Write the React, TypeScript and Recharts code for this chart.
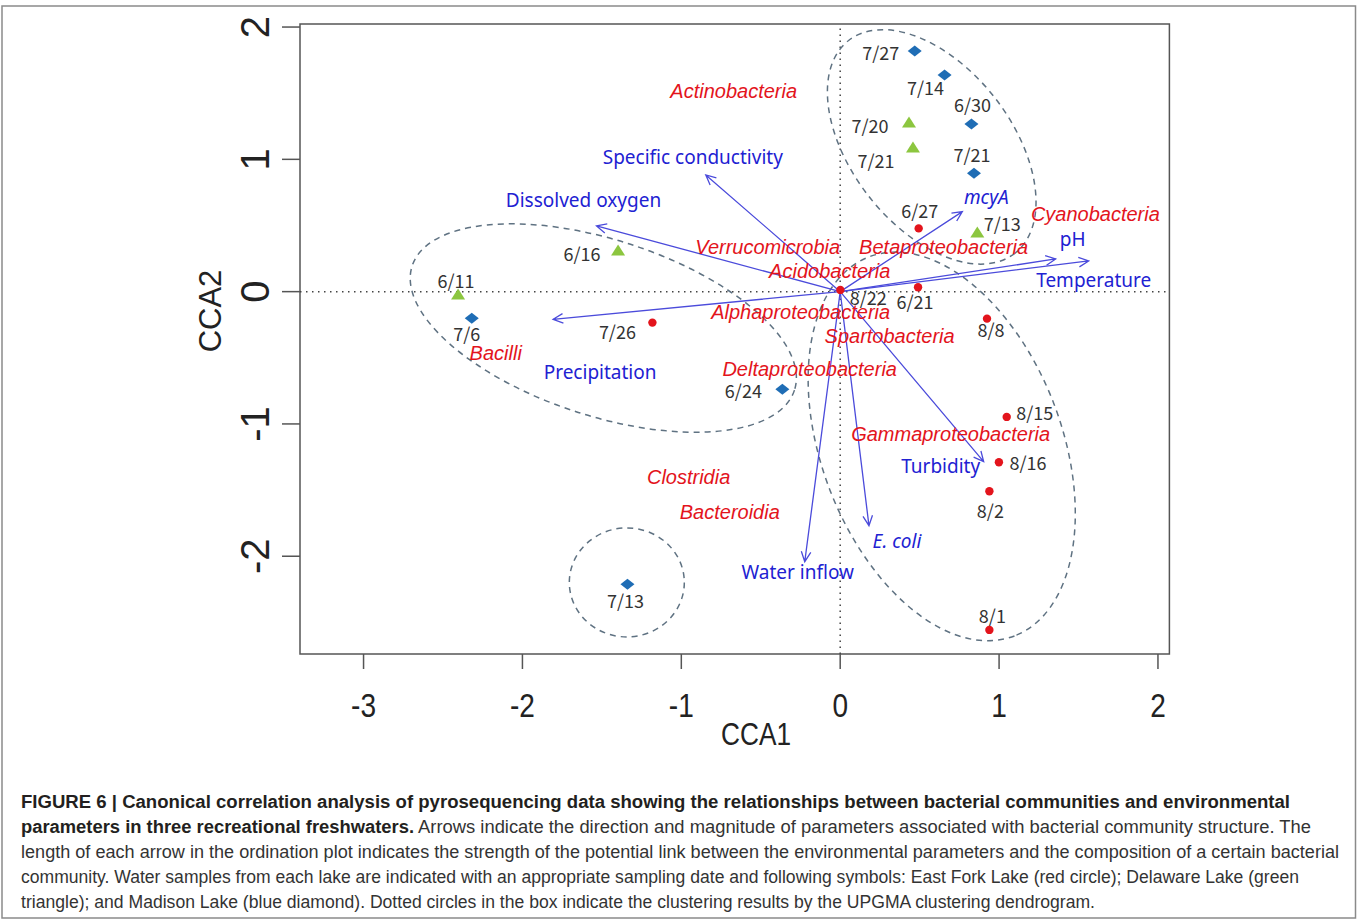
import React from 'react';
import { ScatterChart, Scatter, XAxis, YAxis, ReferenceLine, ReferenceArea } from 'recharts';

// sample scores (CCA1, CCA2)
const eastForkLake = [
  { date: '6/27', x: 0.494, y: 0.478 },
  { date: '8/22', x: 0.001, y: 0.013 },
  { date: '6/21', x: 0.49, y: 0.033 },
  { date: '8/8', x: 0.924, y: -0.204 },
  { date: '7/26', x: -1.182, y: -0.234 },
  { date: '8/15', x: 1.048, y: -0.947 },
  { date: '8/16', x: 0.999, y: -1.29 },
  { date: '8/2', x: 0.939, y: -1.509 },
  { date: '8/1', x: 0.939, y: -2.557 },
];

const delawareLake = [
  { date: '7/20', x: 0.433, y: 1.279 },
  { date: '7/21', x: 0.458, y: 1.09 },
  { date: '7/13', x: 0.863, y: 0.447 },
  { date: '6/16', x: -1.398, y: 0.311 },
  { date: '6/11', x: -2.405, y: -0.021 },
];

const madisonLake = [
  { date: '7/27', x: 0.469, y: 1.819 },
  { date: '7/14', x: 0.657, y: 1.638 },
  { date: '6/30', x: 0.826, y: 1.268 },
  { date: '7/21', x: 0.842, y: 0.895 },
  { date: '7/6', x: -2.319, y: -0.201 },
  { date: '6/24', x: -0.364, y: -0.738 },
  { date: '7/13', x: -1.339, y: -2.212 },
];

// bacterial classes (species scores)
const bacteria = [
  { name: 'Actinobacteria', x: -0.67, y: 1.517 },
  { name: 'Verrucomicrobia', x: -0.456, y: 0.338 },
  { name: 'Betaproteobacteria', x: 0.651, y: 0.338 },
  { name: 'Cyanobacteria', x: 1.606, y: 0.587 },
  { name: 'Acidobacteria', x: -0.066, y: 0.156 },
  { name: 'Alphaproteobacteria', x: -0.249, y: -0.153 },
  { name: 'Spartobacteria', x: 0.311, y: -0.334 },
  { name: 'Bacilli', x: -2.168, y: -0.463 },
  { name: 'Deltaproteobacteria', x: -0.192, y: -0.584 },
  { name: 'Gammaproteobacteria', x: 0.695, y: -1.076 },
  { name: 'Clostridia', x: -0.954, y: -1.401 },
  { name: 'Bacteroidia', x: -0.695, y: -1.665 },
];

// environmental parameters (arrow tips)
const envParams = [
  { name: 'Specific conductivity', x: -0.846, y: 0.882 },
  { name: 'Dissolved oxygen', x: -1.534, y: 0.497 },
  { name: 'mcyA', x: 0.769, y: 0.605 },
  { name: 'pH', x: 1.356, y: 0.247 },
  { name: 'Temperature', x: 1.564, y: 0.232 },
  { name: 'Precipitation', x: -1.807, y: -0.209 },
  { name: 'Water inflow', x: -0.223, y: -2.041 },
  { name: 'E. coli', x: 0.181, y: -1.769 },
  { name: 'Turbidity', x: 0.903, y: -1.285 },
];

// UPGMA cluster centres
const clusters = [
  { id: 'c1', x: 0.576, y: 1.094 },
  { id: 'c2', x: -1.491, y: -0.275 },
  { id: 'c3', x: -1.343, y: -2.198 },
  { id: 'c4', x: 0.639, y: -1.17 },
];

const xTicks = [-3, -2, -1, 0, 1, 2];
const yTicks = [-2, -1, 0, 1, 2];

// ---- layout / styling (pixels) ----
const clusterShape: Record<string, { rx: number; ry: number; rot: number }> = {
  c1: { rx: 135, ry: 80, rot: 52 },
  c2: { rx: 201, ry: 88, rot: 18 },
  c3: { rx: 57.5, ry: 54.5, rot: 0 },
  c4: { rx: 203, ry: 120, rot: 69 },
};

const dateOffsets: Record<string, [number, number]> = {
  'E6/27': [1, -17], 'E8/22': [28, 9], 'E6/21': [-3, 15], 'E8/8': [4, 12], 'E7/26': [-35, 10],
  'E8/15': [28, -3], 'E8/16': [29, 1], 'E8/2': [1, 20], 'E8/1': [3, -13],
  'D7/20': [-39, 4], 'D7/21': [-37, 14], 'D7/13': [25, -8], 'D6/16': [-36, 4], 'D6/11': [-2, -13],
  'M7/27': [-34, 3], 'M7/14': [-19, 14], 'M6/30': [1, -18], 'M7/21': [-2, -18], 'M7/6': [-5, 16],
  'M6/24': [-39, 2], 'M7/13': [-2, 17],
};

const envLabelOffsets: Record<string, [number, number]> = {
  'Specific conductivity': [-13, -18],
  'Dissolved oxygen': [-13, -26],
  mcyA: [24, -14],
  pH: [17, -20],
  Temperature: [5, 19],
  Precipitation: [47, 53],
  'Water inflow': [-7, 11],
  'E. coli': [28, 15],
  Turbidity: [-43, 5],
};
const italicEnv = ['mcyA', 'E. coli'];

const RED = '#e3141c';
const GREEN = '#8cc63f';
const BLUE = '#1f6db5';
const ARROW = '#4b4bdb';
const ENV_TEXT = '#2121d2';
const AXIS_FONT = "'Liberation Sans', Arial, sans-serif";

const DateLabel = ({ x, y, text }: any) => (
  <text x={x} y={y} dy="0.36em" textAnchor="middle" fontSize={18} fill="#333"
    fontFamily="'Noto Sans CJK KR', 'Noto Sans', sans-serif">{text}</text>
);

const makePoint = (lake: string) => (p: any) => {
  const { cx, cy, payload } = p;
  const off = dateOffsets[lake + payload.date] || [0, 0];
  let mark;
  if (lake === 'E') mark = <circle cx={cx} cy={cy} r={4.2} fill={RED} />;
  else if (lake === 'D')
    mark = <path d={`M${cx - 7},${cy + 5}L${cx + 7},${cy + 5}L${cx},${cy - 6}Z`} fill={GREEN} />;
  else mark = <path d={`M${cx - 7},${cy}L${cx},${cy - 5.5}L${cx + 7},${cy}L${cx},${cy + 5.5}Z`} fill={BLUE} />;
  return (
    <g>
      {mark}
      <DateLabel x={cx + off[0]} y={cy + off[1]} text={payload.date} />
    </g>
  );
};

const bacteriaShape = (p: any) => (
  <text x={p.cx} y={p.cy} dy="0.36em" textAnchor="middle" fontSize={20} fontStyle="italic"
    fill={RED} fontFamily={AXIS_FONT}>{p.payload.name}</text>
);

const envLabelShape = (p: any) => {
  const off = envLabelOffsets[p.payload.name] || [0, 0];
  return (
    <text x={p.cx + off[0]} y={p.cy + off[1]} dy="0.36em" textAnchor="middle" fontSize={19}
      fontStyle={italicEnv.includes(p.payload.name) ? 'italic' : 'normal'}
      fill={ENV_TEXT} fontFamily="'Noto Sans', 'Open Sans', sans-serif">{p.payload.name}</text>
  );
};

const clusterShapeFn = (p: any) => {
  const s = clusterShape[p.payload.id];
  return (
    <ellipse cx={p.cx} cy={p.cy} rx={s.rx} ry={s.ry} transform={`rotate(${s.rot} ${p.cx} ${p.cy})`}
      fill="none" stroke="#5f7282" strokeWidth={1.5} strokeDasharray="6 5" />
  );
};

const arrowLine = (lp: any) => {
  const [a, b] = lp.points;
  const ang = Math.atan2(b.y - a.y, b.x - a.x);
  const len = 11;
  const spread = Math.PI / 7;
  const h1x = b.x - len * Math.cos(ang - spread);
  const h1y = b.y - len * Math.sin(ang - spread);
  const h2x = b.x - len * Math.cos(ang + spread);
  const h2y = b.y - len * Math.sin(ang + spread);
  return (
    <path d={`M${a.x},${a.y}L${b.x},${b.y}M${h1x},${h1y}L${b.x},${b.y}L${h2x},${h2y}`}
      fill="none" stroke={ARROW} strokeWidth={1.3} />
  );
};

const hidden = () => <g />;

const XTick = ({ x, y, payload }: any) => (
  <text transform={`translate(${x},${y + 48}) scale(0.85,1)`} textAnchor="middle" fontSize={33}
    fontFamily={AXIS_FONT} fill="#222">{payload.value}</text>
);

const YTick = ({ x, y, payload }: any) => (
  <text transform={`translate(${x - 13},${y}) rotate(-90)`} textAnchor="middle" fontSize={40}
    fontFamily={AXIS_FONT} fill="#222">{payload.value}</text>
);

const captionLines = [
  { bold: 'FIGURE 6 | Canonical correlation analysis of pyrosequencing data showing the relationships between bacterial communities and environmental', rest: '', end: 1290 },
  { bold: 'parameters in three recreational freshwaters.', rest: ' Arrows indicate the direction and magnitude of parameters associated with bacterial community structure. The', end: 1311 },
  { bold: '', rest: 'length of each arrow in the ordination plot indicates the strength of the potential link between the environmental parameters and the composition of a certain bacterial', end: 1339 },
  { bold: '', rest: 'community. Water samples from each lake are indicated with an appropriate sampling date and following symbols: East Fork Lake (red circle); Delaware Lake (green', end: 1299 },
  { bold: '', rest: 'triangle); and Madison Lake (blue diamond). Dotted circles in the box indicate the clustering results by the UPGMA clustering dendrogram.', end: 1095 },
];

export default function App() {
  return (
    <div style={{ position: 'absolute', left: 0, top: 0, width: 1360, height: 920, background: '#fff', overflow: 'hidden' }}>
      <ScatterChart width={1360} height={920} margin={{ top: 24, right: 190.6, bottom: 206, left: 220 }}>
        <XAxis type="number" dataKey="x" domain={[-3.4, 2.072]} allowDataOverflow ticks={xTicks}
          height={60} axisLine={false} tickSize={15} tickMargin={0}
          tickLine={{ stroke: '#555', strokeWidth: 1.5 }} tick={<XTick />} interval={0} />
        <YAxis type="number" dataKey="y" domain={[-2.739, 2.023]} allowDataOverflow ticks={yTicks}
          width={80} axisLine={false} tickSize={18} tickMargin={0}
          tickLine={{ stroke: '#555', strokeWidth: 1.5 }} tick={<YTick />} interval={0} />
        <ReferenceArea x1={-3.4} x2={2.072} y1={-2.739} y2={2.023} fill="none" fillOpacity={0}
          stroke="#555" strokeWidth={1.5} ifOverflow="visible" />
        <ReferenceLine x={0} stroke="#444" strokeWidth={1.5} strokeDasharray="1.5 4.5" />
        <ReferenceLine y={0} stroke="#444" strokeWidth={1.5} strokeDasharray="1.5 4.5" />
        <Scatter data={clusters} shape={clusterShapeFn} isAnimationActive={false} />
        {envParams.map((v) => (
          <Scatter key={v.name} data={[{ x: 0, y: 0 }, { x: v.x, y: v.y }]} line={arrowLine}
            shape={hidden} isAnimationActive={false} />
        ))}
        <Scatter data={bacteria} shape={bacteriaShape} isAnimationActive={false} />
        <Scatter data={envParams} shape={envLabelShape} isAnimationActive={false} />
        <Scatter data={delawareLake} shape={makePoint('D')} isAnimationActive={false} />
        <Scatter data={madisonLake} shape={makePoint('M')} isAnimationActive={false} />
        <Scatter data={eastForkLake} shape={makePoint('E')} isAnimationActive={false} />
      </ScatterChart>
      <svg width={1360} height={920} style={{ position: 'absolute', left: 0, top: 0, pointerEvents: 'none' }}>
        <rect x={2} y={6} width={1353.5} height={912} fill="none" stroke="#8a8a8a" strokeWidth={1.5} />
        <text transform="translate(756,745) scale(0.82,1)" textAnchor="middle" fontSize={32}
          fontFamily={AXIS_FONT} fill="#222">CCA1</text>
        <text transform="translate(221,311) rotate(-90)" textAnchor="middle" fontSize={31}
          fontFamily={AXIS_FONT} fill="#222">CCA2</text>
        {captionLines.map((l, i) => (
          <text key={i} x={21} y={808 + i * 25} fontSize={17.5} fontFamily={AXIS_FONT}
            textLength={l.end - 21} lengthAdjust="spacingAndGlyphs">
            {l.bold && <tspan fontWeight="bold" fill="#231f20">{l.bold}</tspan>}
            {l.rest && <tspan fill="#333">{l.rest}</tspan>}
          </text>
        ))}
      </svg>
    </div>
  );
}
